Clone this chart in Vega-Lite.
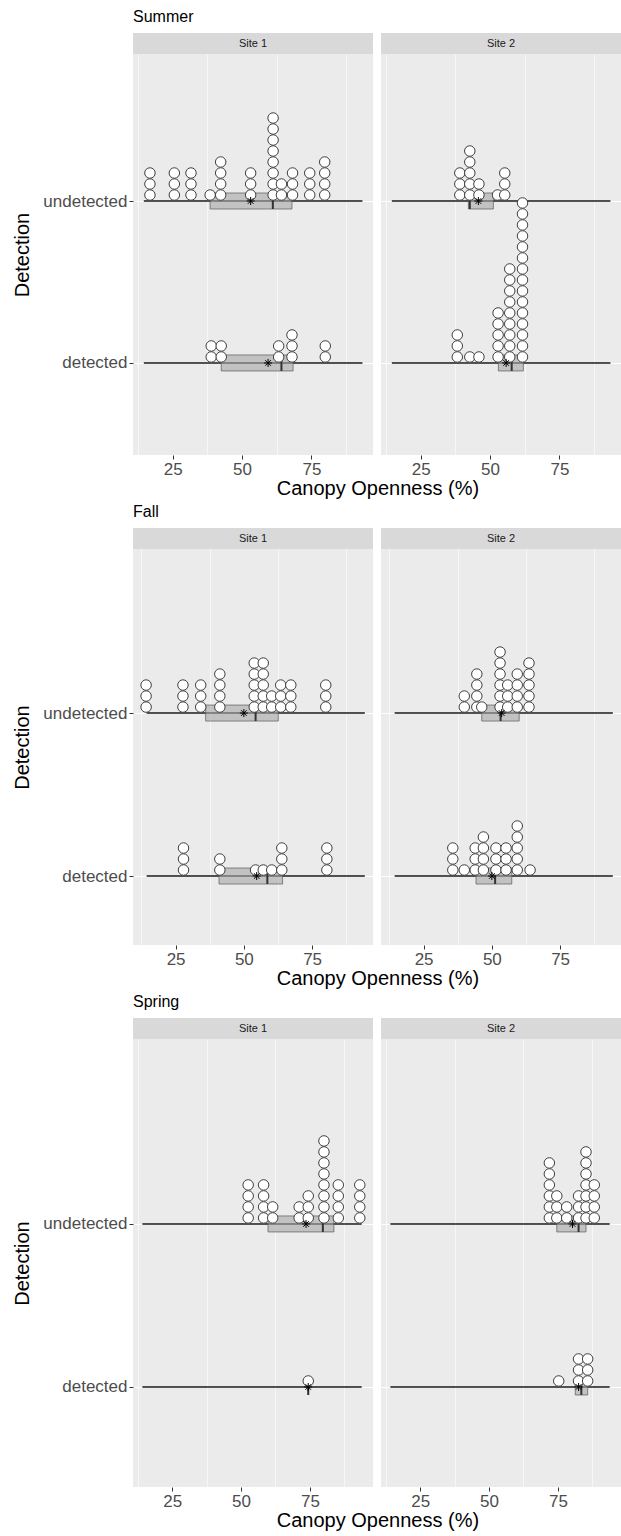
{
"$schema":"https://vega.github.io/schema/vega-lite/v6.json",
"padding":{"left":12,"top":9,"right":0,"bottom":0},
"datasets":{
"stats":[
{"season":"Summer","site":"Site 1","det":"undetected","lo":14.6,"hi":93.4,"q1":38.5,"q3":68.0,"median":61.1,"mean":53.1},
{"season":"Summer","site":"Site 1","det":"detected","lo":14.6,"hi":93.4,"q1":42.5,"q3":68.4,"median":64.2,"mean":59.4},
{"season":"Summer","site":"Site 2","det":"undetected","lo":14.6,"hi":93.4,"q1":42.2,"q3":51.2,"median":42.7,"mean":45.8},
{"season":"Summer","site":"Site 2","det":"detected","lo":14.6,"hi":93.4,"q1":53.0,"q3":62.0,"median":57.8,"mean":55.8},
{"season":"Fall","site":"Site 1","det":"undetected","lo":14.4,"hi":94.3,"q1":36.0,"q3":62.6,"median":54.3,"mean":50.0},
{"season":"Fall","site":"Site 1","det":"detected","lo":14.4,"hi":94.3,"q1":40.9,"q3":64.2,"median":58.6,"mean":54.7},
{"season":"Fall","site":"Site 2","det":"undetected","lo":14.4,"hi":94.3,"q1":46.3,"q3":60.0,"median":53.2,"mean":53.6},
{"season":"Fall","site":"Site 2","det":"detected","lo":14.4,"hi":94.3,"q1":44.2,"q3":57.3,"median":51.2,"mean":50.0},
{"season":"Spring","site":"Site 1","det":"undetected","lo":14.2,"hi":93.8,"q1":59.8,"q3":83.7,"median":79.7,"mean":73.6},
{"season":"Spring","site":"Site 1","det":"detected","lo":14.2,"hi":93.8,"q1":74.4,"q3":74.4,"median":74.4,"mean":74.4},
{"season":"Spring","site":"Site 2","det":"undetected","lo":14.2,"hi":93.8,"q1":74.6,"q3":85.2,"median":82.5,"mean":80.3},
{"season":"Spring","site":"Site 2","det":"detected","lo":14.2,"hi":93.8,"q1":81.3,"q3":85.8,"median":83.5,"mean":82.5}
],
"summer1":[
{"det":"undetected","open":16.8},{"det":"undetected","open":16.8},{"det":"undetected","open":16.8},
{"det":"undetected","open":25.6},{"det":"undetected","open":25.6},{"det":"undetected","open":25.6},
{"det":"undetected","open":31.6},{"det":"undetected","open":31.6},{"det":"undetected","open":31.6},
{"det":"undetected","open":38.5},
{"det":"undetected","open":42.3},{"det":"undetected","open":42.3},{"det":"undetected","open":42.3},{"det":"undetected","open":42.3},
{"det":"undetected","open":53.1},{"det":"undetected","open":53.1},{"det":"undetected","open":53.1},
{"det":"undetected","open":61.2},{"det":"undetected","open":61.2},{"det":"undetected","open":61.2},{"det":"undetected","open":61.2},{"det":"undetected","open":61.2},{"det":"undetected","open":61.2},{"det":"undetected","open":61.2},{"det":"undetected","open":61.2},
{"det":"undetected","open":64.2},{"det":"undetected","open":64.2},
{"det":"undetected","open":68.2},{"det":"undetected","open":68.2},{"det":"undetected","open":68.2},
{"det":"undetected","open":74.4},{"det":"undetected","open":74.4},{"det":"undetected","open":74.4},
{"det":"undetected","open":79.8},{"det":"undetected","open":79.8},{"det":"undetected","open":79.8},{"det":"undetected","open":79.8},
{"det":"detected","open":38.9},{"det":"detected","open":38.9},
{"det":"detected","open":42.5},{"det":"detected","open":42.5},
{"det":"detected","open":63.2},{"det":"detected","open":63.2},
{"det":"detected","open":68.0},{"det":"detected","open":68.0},{"det":"detected","open":68.0},
{"det":"detected","open":80.0},{"det":"detected","open":80.0}
],
"summer2":[
{"det":"undetected","open":39.1},{"det":"undetected","open":39.1},{"det":"undetected","open":39.1},
{"det":"undetected","open":42.7},{"det":"undetected","open":42.7},{"det":"undetected","open":42.7},{"det":"undetected","open":42.7},{"det":"undetected","open":42.7},
{"det":"undetected","open":46.0},{"det":"undetected","open":46.0},
{"det":"undetected","open":52.7},
{"det":"undetected","open":55.3},{"det":"undetected","open":55.3},{"det":"undetected","open":55.3},
{"det":"detected","open":38.2},{"det":"detected","open":38.2},{"det":"detected","open":38.2},
{"det":"detected","open":42.7},
{"det":"detected","open":46.0},
{"det":"detected","open":52.9},{"det":"detected","open":52.9},{"det":"detected","open":52.9},{"det":"detected","open":52.9},{"det":"detected","open":52.9},
{"det":"detected","open":57.1},{"det":"detected","open":57.1},{"det":"detected","open":57.1},{"det":"detected","open":57.1},{"det":"detected","open":57.1},{"det":"detected","open":57.1},{"det":"detected","open":57.1},{"det":"detected","open":57.1},{"det":"detected","open":57.1},
{"det":"detected","open":61.7},{"det":"detected","open":61.7},{"det":"detected","open":61.7},{"det":"detected","open":61.7},{"det":"detected","open":61.7},{"det":"detected","open":61.7},{"det":"detected","open":61.7},{"det":"detected","open":61.7},{"det":"detected","open":61.7},{"det":"detected","open":61.7},{"det":"detected","open":61.7},{"det":"detected","open":61.7},{"det":"detected","open":61.7},{"det":"detected","open":61.7},{"det":"detected","open":61.7}
],
"fall1":[
{"det":"undetected","open":14.2},{"det":"undetected","open":14.2},{"det":"undetected","open":14.2},
{"det":"undetected","open":27.7},{"det":"undetected","open":27.7},{"det":"undetected","open":27.7},
{"det":"undetected","open":34.2},{"det":"undetected","open":34.2},{"det":"undetected","open":34.2},
{"det":"undetected","open":41.2},{"det":"undetected","open":41.2},{"det":"undetected","open":41.2},{"det":"undetected","open":41.2},
{"det":"undetected","open":53.8},{"det":"undetected","open":53.8},{"det":"undetected","open":53.8},{"det":"undetected","open":53.8},{"det":"undetected","open":53.8},
{"det":"undetected","open":57.1},{"det":"undetected","open":57.1},{"det":"undetected","open":57.1},{"det":"undetected","open":57.1},{"det":"undetected","open":57.1},
{"det":"undetected","open":60.2},{"det":"undetected","open":60.2},
{"det":"undetected","open":63.5},{"det":"undetected","open":63.5},{"det":"undetected","open":63.5},
{"det":"undetected","open":67.2},{"det":"undetected","open":67.2},{"det":"undetected","open":67.2},
{"det":"undetected","open":80.0},{"det":"undetected","open":80.0},{"det":"undetected","open":80.0},
{"det":"detected","open":27.9},{"det":"detected","open":27.9},{"det":"detected","open":27.9},
{"det":"detected","open":41.2},{"det":"detected","open":41.2},
{"det":"detected","open":54.3},
{"det":"detected","open":57.1},
{"det":"detected","open":60.2},
{"det":"detected","open":63.9},{"det":"detected","open":63.9},{"det":"detected","open":63.9},
{"det":"detected","open":80.4},{"det":"detected","open":80.4},{"det":"detected","open":80.4}
],
"fall2":[
{"det":"undetected","open":39.9},{"det":"undetected","open":39.9},
{"det":"undetected","open":44.5},{"det":"undetected","open":44.5},{"det":"undetected","open":44.5},{"det":"undetected","open":44.5},
{"det":"undetected","open":46.3},
{"det":"undetected","open":53.0},{"det":"undetected","open":53.0},{"det":"undetected","open":53.0},{"det":"undetected","open":53.0},{"det":"undetected","open":53.0},{"det":"undetected","open":53.0},
{"det":"undetected","open":55.8},{"det":"undetected","open":55.8},{"det":"undetected","open":55.8},
{"det":"undetected","open":59.3},{"det":"undetected","open":59.3},{"det":"undetected","open":59.3},{"det":"undetected","open":59.3},
{"det":"undetected","open":63.6},{"det":"undetected","open":63.6},{"det":"undetected","open":63.6},{"det":"undetected","open":63.6},{"det":"undetected","open":63.6},
{"det":"detected","open":35.7},{"det":"detected","open":35.7},{"det":"detected","open":35.7},
{"det":"detected","open":39.9},
{"det":"detected","open":43.9},{"det":"detected","open":43.9},{"det":"detected","open":43.9},
{"det":"detected","open":46.9},{"det":"detected","open":46.9},{"det":"detected","open":46.9},{"det":"detected","open":46.9},
{"det":"detected","open":51.5},{"det":"detected","open":51.5},{"det":"detected","open":51.5},
{"det":"detected","open":55.2},{"det":"detected","open":55.2},{"det":"detected","open":55.2},
{"det":"detected","open":59.3},{"det":"detected","open":59.3},{"det":"detected","open":59.3},{"det":"detected","open":59.3},{"det":"detected","open":59.3},
{"det":"detected","open":64.0}
],
"spring1":[
{"det":"undetected","open":52.6},{"det":"undetected","open":52.6},{"det":"undetected","open":52.6},{"det":"undetected","open":52.6},
{"det":"undetected","open":58.2},{"det":"undetected","open":58.2},{"det":"undetected","open":58.2},{"det":"undetected","open":58.2},
{"det":"undetected","open":61.5},{"det":"undetected","open":61.5},
{"det":"undetected","open":71.1},{"det":"undetected","open":71.1},
{"det":"undetected","open":74.4},{"det":"undetected","open":74.4},{"det":"undetected","open":74.4},
{"det":"undetected","open":80.1},{"det":"undetected","open":80.1},{"det":"undetected","open":80.1},{"det":"undetected","open":80.1},{"det":"undetected","open":80.1},{"det":"undetected","open":80.1},{"det":"undetected","open":80.1},{"det":"undetected","open":80.1},
{"det":"undetected","open":85.3},{"det":"undetected","open":85.3},{"det":"undetected","open":85.3},{"det":"undetected","open":85.3},
{"det":"undetected","open":93.1},{"det":"undetected","open":93.1},{"det":"undetected","open":93.1},{"det":"undetected","open":93.1},
{"det":"detected","open":74.4}
],
"spring2":[
{"det":"undetected","open":71.9},{"det":"undetected","open":71.9},{"det":"undetected","open":71.9},{"det":"undetected","open":71.9},{"det":"undetected","open":71.9},{"det":"undetected","open":71.9},
{"det":"undetected","open":74.6},{"det":"undetected","open":74.6},{"det":"undetected","open":74.6},
{"det":"undetected","open":78.2},{"det":"undetected","open":78.2},
{"det":"undetected","open":82.5},{"det":"undetected","open":82.5},{"det":"undetected","open":82.5},
{"det":"undetected","open":85.2},{"det":"undetected","open":85.2},{"det":"undetected","open":85.2},{"det":"undetected","open":85.2},{"det":"undetected","open":85.2},{"det":"undetected","open":85.2},{"det":"undetected","open":85.2},
{"det":"undetected","open":88.2},{"det":"undetected","open":88.2},{"det":"undetected","open":88.2},{"det":"undetected","open":88.2},
{"det":"detected","open":75.3},
{"det":"detected","open":82.5},{"det":"detected","open":82.5},{"det":"detected","open":82.5},
{"det":"detected","open":85.8},{"det":"detected","open":85.8},{"det":"detected","open":85.8}
]
},
"vconcat":[
{"title":{"text":"Canopy Openness (%)","orient":"bottom","anchor":"middle","fontSize":20,"offset":2,"dx":61},
 "hconcat":[
 {"vconcat":[
  {"width":240,"height":21,"view":{"fill":"#d9d9d9","stroke":null},"title":{"text":"Summer"},"data":{"values":[{"site":"Site 1"}]},"mark":{"type":"text","fontSize":11,"color":"#1a1a1a"},"encoding":{"text":{"field":"site"}}},
  {"width":240,"height":401,"view":{"fill":"#ebebeb","stroke":null},"resolve":{"axis":{"x":"independent"}},
   "encoding":{"y":{"field":"det","type":"nominal","scale":{"type":"point","domain":["undetected","detected"],"padding":0.738,"align":0.615},"axis":{"title":"Detection","titlePadding":10}}},
   "layer":[
    {"data":{"name":"stats"},"transform":[{"filter":"datum.season==='Summer' && datum.site==='Site 1'"}],"mark":{"type":"rule","color":"#1a1a1a","strokeWidth":1.5},"encoding":{"x":{"field":"lo","type":"quantitative","scale":{"domain":[10.7,97.2],"nice":false,"zero":false},"axis":{"orient":"bottom","values":[12.5,37.5,62.5,87.5],"labels":false,"ticks":false,"gridWidth":0.6,"title":null}},"x2":{"field":"hi"}}},
    {"data":{"name":"stats"},"transform":[{"filter":"datum.season==='Summer' && datum.site==='Site 1'"}],"mark":{"type":"bar","height":16,"fill":"#a6a6a6","fillOpacity":0.6,"stroke":"#595959","strokeWidth":0.7},"encoding":{"x":{"field":"q1","type":"quantitative","scale":{"domain":[10.7,97.2],"nice":false,"zero":false},"axis":null},"x2":{"field":"q3"}}},
    {"data":{"name":"stats"},"transform":[{"filter":"datum.season==='Summer' && datum.site==='Site 1'"}],"mark":{"type":"tick","size":16,"thickness":2,"color":"#333333","opacity":1},"encoding":{"x":{"field":"median","type":"quantitative","scale":{"domain":[10.7,97.2],"nice":false,"zero":false},"axis":null}}},
    {"data":{"name":"summer1"},"transform":[{"window":[{"op":"row_number","as":"stack"}],"groupby":["det","open"]}],"mark":{"type":"circle","fill":"#ffffff","stroke":"#404040","strokeWidth":1,"size":110,"opacity":1},"encoding":{"x":{"field":"open","type":"quantitative","scale":{"domain":[10.7,97.2],"nice":false,"zero":false},"axis":{"orient":"bottom","values":[25,50,75],"gridWidth":1.3,"title":null}},"yOffset":{"field":"stack","type":"quantitative","scale":{"domain":[1,21],"range":[-6,-226]}}}},
    {"data":{"name":"stats"},"transform":[{"filter":"datum.season==='Summer' && datum.site==='Site 1'"}],"mark":{"type":"point","shape":"M-1,0L1,0M0,-1L0,1M-0.7,-0.7L0.7,0.7M-0.7,0.7L0.7,-0.7","filled":false,"stroke":"#000000","strokeWidth":1,"size":64,"opacity":1},"encoding":{"x":{"field":"mean","type":"quantitative","scale":{"domain":[10.7,97.2],"nice":false,"zero":false},"axis":null}}}
   ]}
 ],"spacing":0},
 {"vconcat":[
  {"width":240,"height":21,"view":{"fill":"#d9d9d9","stroke":null},"data":{"values":[{"site":"Site 2"}]},"mark":{"type":"text","fontSize":11,"color":"#1a1a1a"},"encoding":{"text":{"field":"site"}}},
  {"width":240,"height":401,"view":{"fill":"#ebebeb","stroke":null},"resolve":{"axis":{"x":"independent"}},
   "encoding":{"y":{"field":"det","type":"nominal","scale":{"type":"point","domain":["undetected","detected"],"padding":0.738,"align":0.615},"axis":{"title":null,"labels":false,"ticks":false}}},
   "layer":[
    {"data":{"name":"stats"},"transform":[{"filter":"datum.season==='Summer' && datum.site==='Site 2'"}],"mark":{"type":"rule","color":"#1a1a1a","strokeWidth":1.5},"encoding":{"x":{"field":"lo","type":"quantitative","scale":{"domain":[10.7,97.2],"nice":false,"zero":false},"axis":{"orient":"bottom","values":[12.5,37.5,62.5,87.5],"labels":false,"ticks":false,"gridWidth":0.6,"title":null}},"x2":{"field":"hi"}}},
    {"data":{"name":"stats"},"transform":[{"filter":"datum.season==='Summer' && datum.site==='Site 2'"}],"mark":{"type":"bar","height":16,"fill":"#a6a6a6","fillOpacity":0.6,"stroke":"#595959","strokeWidth":0.7},"encoding":{"x":{"field":"q1","type":"quantitative","scale":{"domain":[10.7,97.2],"nice":false,"zero":false},"axis":null},"x2":{"field":"q3"}}},
    {"data":{"name":"stats"},"transform":[{"filter":"datum.season==='Summer' && datum.site==='Site 2'"}],"mark":{"type":"tick","size":16,"thickness":2,"color":"#333333","opacity":1},"encoding":{"x":{"field":"median","type":"quantitative","scale":{"domain":[10.7,97.2],"nice":false,"zero":false},"axis":null}}},
    {"data":{"name":"summer2"},"transform":[{"window":[{"op":"row_number","as":"stack"}],"groupby":["det","open"]}],"mark":{"type":"circle","fill":"#ffffff","stroke":"#404040","strokeWidth":1,"size":110,"opacity":1},"encoding":{"x":{"field":"open","type":"quantitative","scale":{"domain":[10.7,97.2],"nice":false,"zero":false},"axis":{"orient":"bottom","values":[25,50,75],"gridWidth":1.3,"title":null}},"yOffset":{"field":"stack","type":"quantitative","scale":{"domain":[1,21],"range":[-6,-226]}}}},
    {"data":{"name":"stats"},"transform":[{"filter":"datum.season==='Summer' && datum.site==='Site 2'"}],"mark":{"type":"point","shape":"M-1,0L1,0M0,-1L0,1M-0.7,-0.7L0.7,0.7M-0.7,0.7L0.7,-0.7","filled":false,"stroke":"#000000","strokeWidth":1,"size":64,"opacity":1},"encoding":{"x":{"field":"mean","type":"quantitative","scale":{"domain":[10.7,97.2],"nice":false,"zero":false},"axis":null}}}
   ]}
 ],"spacing":0}
],"spacing":8},
{"title":{"text":"Canopy Openness (%)","orient":"bottom","anchor":"middle","fontSize":20,"offset":2,"dx":61},
 "hconcat":[
 {"vconcat":[
  {"width":240,"height":21,"view":{"fill":"#d9d9d9","stroke":null},"title":{"text":"Fall"},"data":{"values":[{"site":"Site 1"}]},"mark":{"type":"text","fontSize":11,"color":"#1a1a1a"},"encoding":{"text":{"field":"site"}}},
  {"width":240,"height":396,"view":{"fill":"#ebebeb","stroke":null},"resolve":{"axis":{"x":"independent"}},
   "encoding":{"y":{"field":"det","type":"nominal","scale":{"type":"point","domain":["undetected","detected"],"padding":0.715,"align":0.704},"axis":{"title":"Detection","titlePadding":10}}},
   "layer":[
    {"data":{"name":"stats"},"transform":[{"filter":"datum.season==='Fall' && datum.site==='Site 1'"}],"mark":{"type":"rule","color":"#1a1a1a","strokeWidth":1.5},"encoding":{"x":{"field":"lo","type":"quantitative","scale":{"domain":[9.4,97.3],"nice":false,"zero":false},"axis":{"orient":"bottom","values":[12.5,37.5,62.5,87.5],"labels":false,"ticks":false,"gridWidth":0.6,"title":null}},"x2":{"field":"hi"}}},
    {"data":{"name":"stats"},"transform":[{"filter":"datum.season==='Fall' && datum.site==='Site 1'"}],"mark":{"type":"bar","height":16,"fill":"#a6a6a6","fillOpacity":0.6,"stroke":"#595959","strokeWidth":0.7},"encoding":{"x":{"field":"q1","type":"quantitative","scale":{"domain":[9.4,97.3],"nice":false,"zero":false},"axis":null},"x2":{"field":"q3"}}},
    {"data":{"name":"stats"},"transform":[{"filter":"datum.season==='Fall' && datum.site==='Site 1'"}],"mark":{"type":"tick","size":16,"thickness":2,"color":"#333333","opacity":1},"encoding":{"x":{"field":"median","type":"quantitative","scale":{"domain":[9.4,97.3],"nice":false,"zero":false},"axis":null}}},
    {"data":{"name":"fall1"},"transform":[{"window":[{"op":"row_number","as":"stack"}],"groupby":["det","open"]}],"mark":{"type":"circle","fill":"#ffffff","stroke":"#404040","strokeWidth":1,"size":110,"opacity":1},"encoding":{"x":{"field":"open","type":"quantitative","scale":{"domain":[9.4,97.3],"nice":false,"zero":false},"axis":{"orient":"bottom","values":[25,50,75],"gridWidth":1.3,"title":null}},"yOffset":{"field":"stack","type":"quantitative","scale":{"domain":[1,21],"range":[-6,-226]}}}},
    {"data":{"name":"stats"},"transform":[{"filter":"datum.season==='Fall' && datum.site==='Site 1'"}],"mark":{"type":"point","shape":"M-1,0L1,0M0,-1L0,1M-0.7,-0.7L0.7,0.7M-0.7,0.7L0.7,-0.7","filled":false,"stroke":"#000000","strokeWidth":1,"size":64,"opacity":1},"encoding":{"x":{"field":"mean","type":"quantitative","scale":{"domain":[9.4,97.3],"nice":false,"zero":false},"axis":null}}}
   ]}
 ],"spacing":0},
 {"vconcat":[
  {"width":240,"height":21,"view":{"fill":"#d9d9d9","stroke":null},"data":{"values":[{"site":"Site 2"}]},"mark":{"type":"text","fontSize":11,"color":"#1a1a1a"},"encoding":{"text":{"field":"site"}}},
  {"width":240,"height":396,"view":{"fill":"#ebebeb","stroke":null},"resolve":{"axis":{"x":"independent"}},
   "encoding":{"y":{"field":"det","type":"nominal","scale":{"type":"point","domain":["undetected","detected"],"padding":0.715,"align":0.704},"axis":{"title":null,"labels":false,"ticks":false}}},
   "layer":[
    {"data":{"name":"stats"},"transform":[{"filter":"datum.season==='Fall' && datum.site==='Site 2'"}],"mark":{"type":"rule","color":"#1a1a1a","strokeWidth":1.5},"encoding":{"x":{"field":"lo","type":"quantitative","scale":{"domain":[9.4,97.3],"nice":false,"zero":false},"axis":{"orient":"bottom","values":[12.5,37.5,62.5,87.5],"labels":false,"ticks":false,"gridWidth":0.6,"title":null}},"x2":{"field":"hi"}}},
    {"data":{"name":"stats"},"transform":[{"filter":"datum.season==='Fall' && datum.site==='Site 2'"}],"mark":{"type":"bar","height":16,"fill":"#a6a6a6","fillOpacity":0.6,"stroke":"#595959","strokeWidth":0.7},"encoding":{"x":{"field":"q1","type":"quantitative","scale":{"domain":[9.4,97.3],"nice":false,"zero":false},"axis":null},"x2":{"field":"q3"}}},
    {"data":{"name":"stats"},"transform":[{"filter":"datum.season==='Fall' && datum.site==='Site 2'"}],"mark":{"type":"tick","size":16,"thickness":2,"color":"#333333","opacity":1},"encoding":{"x":{"field":"median","type":"quantitative","scale":{"domain":[9.4,97.3],"nice":false,"zero":false},"axis":null}}},
    {"data":{"name":"fall2"},"transform":[{"window":[{"op":"row_number","as":"stack"}],"groupby":["det","open"]}],"mark":{"type":"circle","fill":"#ffffff","stroke":"#404040","strokeWidth":1,"size":110,"opacity":1},"encoding":{"x":{"field":"open","type":"quantitative","scale":{"domain":[9.4,97.3],"nice":false,"zero":false},"axis":{"orient":"bottom","values":[25,50,75],"gridWidth":1.3,"title":null}},"yOffset":{"field":"stack","type":"quantitative","scale":{"domain":[1,21],"range":[-6,-226]}}}},
    {"data":{"name":"stats"},"transform":[{"filter":"datum.season==='Fall' && datum.site==='Site 2'"}],"mark":{"type":"point","shape":"M-1,0L1,0M0,-1L0,1M-0.7,-0.7L0.7,0.7M-0.7,0.7L0.7,-0.7","filled":false,"stroke":"#000000","strokeWidth":1,"size":64,"opacity":1},"encoding":{"x":{"field":"mean","type":"quantitative","scale":{"domain":[9.4,97.3],"nice":false,"zero":false},"axis":null}}}
   ]}
 ],"spacing":0}
],"spacing":8},
{"title":{"text":"Canopy Openness (%)","orient":"bottom","anchor":"middle","fontSize":20,"offset":2,"dx":61},
 "hconcat":[
 {"vconcat":[
  {"width":240,"height":21,"view":{"fill":"#d9d9d9","stroke":null},"title":{"text":"Spring"},"data":{"values":[{"site":"Site 1"}]},"mark":{"type":"text","fontSize":11,"color":"#1a1a1a"},"encoding":{"text":{"field":"site"}}},
  {"width":240,"height":448,"view":{"fill":"#ebebeb","stroke":null},"resolve":{"axis":{"x":"independent"}},
   "encoding":{"y":{"field":"det","type":"nominal","scale":{"type":"point","domain":["undetected","detected"],"padding":0.874,"align":0.649},"axis":{"title":"Detection","titlePadding":10}}},
   "layer":[
    {"data":{"name":"stats"},"transform":[{"filter":"datum.season==='Spring' && datum.site==='Site 1'"}],"mark":{"type":"rule","color":"#1a1a1a","strokeWidth":1.5},"encoding":{"x":{"field":"lo","type":"quantitative","scale":{"domain":[10.8,97.9],"nice":false,"zero":false},"axis":{"orient":"bottom","values":[12.5,37.5,62.5,87.5],"labels":false,"ticks":false,"gridWidth":0.6,"title":null}},"x2":{"field":"hi"}}},
    {"data":{"name":"stats"},"transform":[{"filter":"datum.season==='Spring' && datum.site==='Site 1'"}],"mark":{"type":"bar","height":16,"fill":"#a6a6a6","fillOpacity":0.6,"stroke":"#595959","strokeWidth":0.7},"encoding":{"x":{"field":"q1","type":"quantitative","scale":{"domain":[10.8,97.9],"nice":false,"zero":false},"axis":null},"x2":{"field":"q3"}}},
    {"data":{"name":"stats"},"transform":[{"filter":"datum.season==='Spring' && datum.site==='Site 1'"}],"mark":{"type":"tick","size":16,"thickness":2,"color":"#333333","opacity":1},"encoding":{"x":{"field":"median","type":"quantitative","scale":{"domain":[10.8,97.9],"nice":false,"zero":false},"axis":null}}},
    {"data":{"name":"spring1"},"transform":[{"window":[{"op":"row_number","as":"stack"}],"groupby":["det","open"]}],"mark":{"type":"circle","fill":"#ffffff","stroke":"#404040","strokeWidth":1,"size":110,"opacity":1},"encoding":{"x":{"field":"open","type":"quantitative","scale":{"domain":[10.8,97.9],"nice":false,"zero":false},"axis":{"orient":"bottom","values":[25,50,75],"gridWidth":1.3,"title":null}},"yOffset":{"field":"stack","type":"quantitative","scale":{"domain":[1,21],"range":[-6,-226]}}}},
    {"data":{"name":"stats"},"transform":[{"filter":"datum.season==='Spring' && datum.site==='Site 1'"}],"mark":{"type":"point","shape":"M-1,0L1,0M0,-1L0,1M-0.7,-0.7L0.7,0.7M-0.7,0.7L0.7,-0.7","filled":false,"stroke":"#000000","strokeWidth":1,"size":64,"opacity":1},"encoding":{"x":{"field":"mean","type":"quantitative","scale":{"domain":[10.8,97.9],"nice":false,"zero":false},"axis":null}}}
   ]}
 ],"spacing":0},
 {"vconcat":[
  {"width":240,"height":21,"view":{"fill":"#d9d9d9","stroke":null},"data":{"values":[{"site":"Site 2"}]},"mark":{"type":"text","fontSize":11,"color":"#1a1a1a"},"encoding":{"text":{"field":"site"}}},
  {"width":240,"height":448,"view":{"fill":"#ebebeb","stroke":null},"resolve":{"axis":{"x":"independent"}},
   "encoding":{"y":{"field":"det","type":"nominal","scale":{"type":"point","domain":["undetected","detected"],"padding":0.874,"align":0.649},"axis":{"title":null,"labels":false,"ticks":false}}},
   "layer":[
    {"data":{"name":"stats"},"transform":[{"filter":"datum.season==='Spring' && datum.site==='Site 2'"}],"mark":{"type":"rule","color":"#1a1a1a","strokeWidth":1.5},"encoding":{"x":{"field":"lo","type":"quantitative","scale":{"domain":[10.8,97.9],"nice":false,"zero":false},"axis":{"orient":"bottom","values":[12.5,37.5,62.5,87.5],"labels":false,"ticks":false,"gridWidth":0.6,"title":null}},"x2":{"field":"hi"}}},
    {"data":{"name":"stats"},"transform":[{"filter":"datum.season==='Spring' && datum.site==='Site 2'"}],"mark":{"type":"bar","height":16,"fill":"#a6a6a6","fillOpacity":0.6,"stroke":"#595959","strokeWidth":0.7},"encoding":{"x":{"field":"q1","type":"quantitative","scale":{"domain":[10.8,97.9],"nice":false,"zero":false},"axis":null},"x2":{"field":"q3"}}},
    {"data":{"name":"stats"},"transform":[{"filter":"datum.season==='Spring' && datum.site==='Site 2'"}],"mark":{"type":"tick","size":16,"thickness":2,"color":"#333333","opacity":1},"encoding":{"x":{"field":"median","type":"quantitative","scale":{"domain":[10.8,97.9],"nice":false,"zero":false},"axis":null}}},
    {"data":{"name":"spring2"},"transform":[{"window":[{"op":"row_number","as":"stack"}],"groupby":["det","open"]}],"mark":{"type":"circle","fill":"#ffffff","stroke":"#404040","strokeWidth":1,"size":110,"opacity":1},"encoding":{"x":{"field":"open","type":"quantitative","scale":{"domain":[10.8,97.9],"nice":false,"zero":false},"axis":{"orient":"bottom","values":[25,50,75],"gridWidth":1.3,"title":null}},"yOffset":{"field":"stack","type":"quantitative","scale":{"domain":[1,21],"range":[-6,-226]}}}},
    {"data":{"name":"stats"},"transform":[{"filter":"datum.season==='Spring' && datum.site==='Site 2'"}],"mark":{"type":"point","shape":"M-1,0L1,0M0,-1L0,1M-0.7,-0.7L0.7,0.7M-0.7,0.7L0.7,-0.7","filled":false,"stroke":"#000000","strokeWidth":1,"size":64,"opacity":1},"encoding":{"x":{"field":"mean","type":"quantitative","scale":{"domain":[10.8,97.9],"nice":false,"zero":false},"axis":null}}}
   ]}
 ],"spacing":0}
],"spacing":8}
],
"spacing":5,
"config":{
 "font":"Liberation Sans",
 "view":{"stroke":null},
 "axis":{"domain":false,"grid":true,"gridColor":"#ffffff","gridWidth":1.2,"labelColor":"#4d4d4d","labelFontSize":17,"labelFont":"Liberation Sans","tickColor":"#333333","tickSize":4,"tickWidth":1,"labelPadding":2,"titleFont":"Liberation Sans","titleFontSize":20,"titleFontWeight":"normal","titleColor":"#000000"},
 "title":{"font":"Liberation Sans","fontSize":16,"fontWeight":"normal","anchor":"start","color":"#000000","offset":8}
}
}
